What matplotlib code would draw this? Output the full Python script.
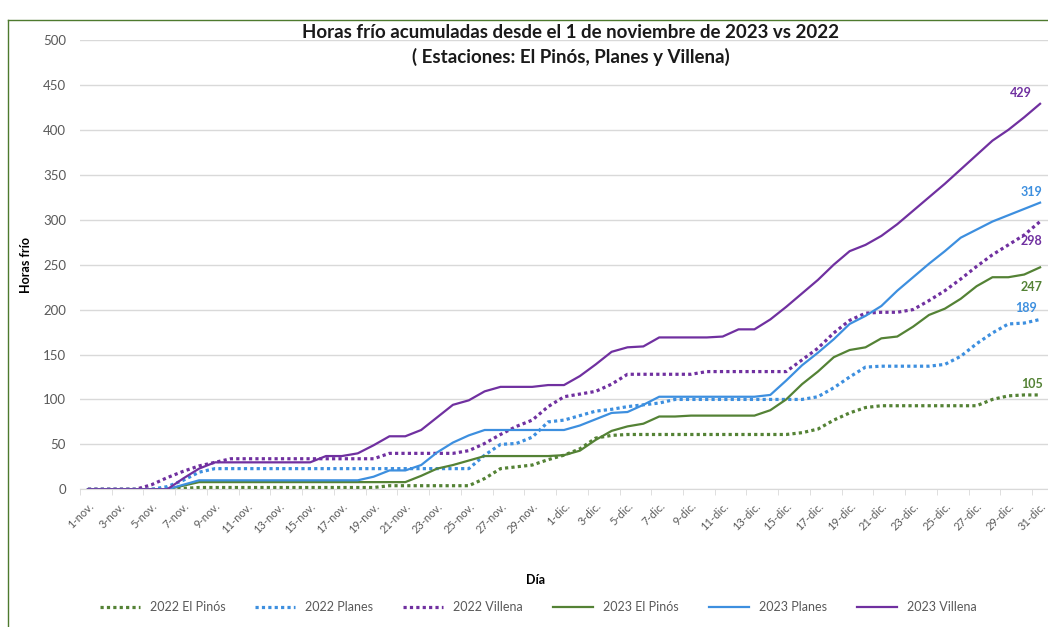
import numpy as np
import matplotlib.pyplot as plt

plt.rcParams['font.family'] = ['Lato', 'DejaVu Sans']

# etiquetas del eje x (cada dos dias)
etiquetas = ['1-nov.', '3-nov.', '5-nov.', '7-nov.', '9-nov.', '11-nov.', '13-nov.', '15-nov.',
             '17-nov.', '19-nov.', '21-nov.', '23-nov.', '25-nov.', '27-nov.', '29-nov.',
             '1-dic.', '3-dic.', '5-dic.', '7-dic.', '9-dic.', '11-dic.', '13-dic.', '15-dic.',
             '17-dic.', '19-dic.', '21-dic.', '23-dic.', '25-dic.', '27-dic.', '29-dic.', '31-dic.']

# horas frio acumuladas, 1-nov a 31-dic
pinos_2022 = [0, 0, 0, 0, 0, 0, 1, 2, 2, 2, 2, 2, 2, 2, 2, 2, 2, 2, 2, 4, 4, 4, 4, 4, 4,
              12, 23, 25, 27, 33, 38, 45, 57, 60, 61, 61, 61, 61, 61, 61, 61, 61, 61, 61, 61,
              63, 67, 77, 85, 91, 93, 93, 93, 93, 93, 93, 93, 100, 104, 105, 105]
planes_2022 = [0, 0, 0, 0, 0, 3, 10, 19, 23, 23, 23, 23, 23, 23, 23, 23, 23, 23, 23, 23, 23,
               23, 23, 23, 23, 38, 50, 51, 58, 75, 77, 82, 87, 89, 92, 94, 96, 100, 100, 100,
               100, 100, 100, 100, 100, 100, 103, 113, 125, 136, 137, 137, 137, 137, 139, 148,
               162, 174, 184, 185, 189]
villena_2022 = [0, 0, 0, 0, 5, 13, 20, 26, 30, 34, 34, 34, 34, 34, 34, 34, 34, 34, 34, 40, 40,
                40, 40, 40, 43, 51, 61, 70, 77, 92, 103, 106, 109, 117, 128, 128, 128, 128, 128,
                131, 131, 131, 131, 131, 131, 144, 157, 174, 188, 196, 197, 197, 200, 210, 221,
                234, 248, 261, 272, 283, 298]
pinos_2023 = [0, 0, 0, 0, 0, 0, 4, 8, 8, 8, 8, 8, 8, 8, 8, 8, 8, 8, 8, 8, 8, 15, 23, 27, 32,
              37, 37, 37, 37, 37, 38, 43, 55, 65, 70, 73, 81, 81, 82, 82, 82, 82, 82, 88, 100,
              117, 131, 147, 155, 158, 168, 170, 181, 194, 201, 212, 226, 236, 236, 239, 247]
planes_2023 = [0, 0, 0, 0, 0, 0, 5, 10, 10, 10, 10, 10, 10, 10, 10, 10, 10, 10, 14, 21, 21,
               27, 41, 52, 60, 66, 66, 66, 66, 66, 66, 71, 78, 85, 86, 94, 103, 103, 103, 103,
               103, 103, 103, 105, 121, 138, 152, 167, 184, 193, 204, 221, 236, 251, 265, 280,
               289, 298, 305, 312, 319]
villena_2023 = [0, 0, 0, 0, 0, 0, 12, 23, 30, 30, 30, 30, 30, 30, 30, 37, 37, 40, 49, 59, 59,
                66, 80, 94, 99, 109, 114, 114, 114, 116, 116, 126, 139, 153, 158, 159, 169, 169,
                169, 169, 170, 178, 178, 189, 203, 218, 233, 250, 265, 272, 282, 295, 310, 325,
                340, 356, 372, 388, 400, 414, 429]

verde = '#548235'
azul = '#3D8FDF'
morado = '#7030A0'
gris = '#595959'

fig = plt.figure(figsize=(10.48, 6.27), dpi=100)
ax = fig.add_axes([80 / 1048, (627 - 489.3) / 627, 968 / 1048, 449.3 / 627])

x = np.arange(len(villena_2023))
punteada = (0, (1, 1))
ax.plot(x, pinos_2022, color=verde, lw=2.3, ls=punteada, label='2022 El Pinós')
ax.plot(x, planes_2022, color=azul, lw=2.3, ls=punteada, label='2022 Planes')
ax.plot(x, villena_2022, color=morado, lw=2.3, ls=punteada, label='2022 Villena')
ax.plot(x, pinos_2023, color=verde, lw=1.6, label='2023 El Pinós')
ax.plot(x, planes_2023, color=azul, lw=1.6, label='2023 Planes')
ax.plot(x, villena_2023, color=morado, lw=1.6, label='2023 Villena')

# valores finales
finales = [(villena_2023, morado, (-14, 8)), (planes_2023, azul, (-6, 8)),
           (villena_2022, morado, (-6, -14)), (pinos_2023, verde, (-6, -14)),
           (planes_2022, azul, (-10, 8)), (pinos_2022, verde, (-6, 8))]
for serie, c, off in finales:
    ax.annotate(str(serie[-1]), (x[-1], serie[-1]), xytext=off, textcoords='offset points',
                ha='center', va='center', color=c, fontsize=9, fontweight='bold')

ax.set_xlim(-0.5, 60.5)
ax.set_ylim(0, 500)
ax.set_yticks(range(0, 501, 50))
ax.tick_params(axis='y', length=0, labelsize=9.5, labelcolor=gris, pad=10)
ax.set_xticks(x[::2])
ax.set_xticklabels(etiquetas, rotation=45, ha='right', rotation_mode='anchor',
                   fontsize=8, color=gris)
ax.set_xticks(np.arange(-0.5, 61, 2), minor=True)
ax.tick_params(axis='x', which='major', length=0, pad=8)
ax.tick_params(axis='x', which='minor', length=4, color='#D9D9D9')
ax.grid(axis='y', color='#D9D9D9', lw=1)
ax.set_axisbelow(True)
for s in ['top', 'right', 'left']:
    ax.spines[s].set_visible(False)
ax.spines['bottom'].set_color('#D9D9D9')

ax.set_ylabel('Horas frío', fontsize=9, fontweight='bold', color='black', labelpad=8)
fig.text(536 / 1048, 1 - 580 / 627, 'Día', ha='center', va='center', fontsize=9,
         fontweight='bold')
fig.text(571 / 1048, 1 - 33 / 627, 'Horas frío acumuladas desde el 1 de noviembre de 2023 vs 2022',
         ha='center', va='center', fontsize=13.5, fontweight='bold', color='#1a1a1a')
fig.text(571 / 1048, 1 - 57 / 627, '( Estaciones: El Pinós, Planes y Villena)',
         ha='center', va='center', fontsize=13.5, fontweight='bold', color='#1a1a1a')

fig.legend(loc='center', bbox_to_anchor=(538 / 1048, 1 - 607 / 627), ncol=6, frameon=False,
           fontsize=9, labelcolor=gris, handlelength=3.2, columnspacing=2.4)

# marco verde
fig.add_artist(plt.Line2D([8 / 1048, 1], [1 - 20 / 627] * 2, color='#4E7A2E', lw=1))
fig.add_artist(plt.Line2D([8 / 1048] * 2, [0, 1 - 20 / 627], color='#4E7A2E', lw=1))

fig.savefig('out.png', dpi=100)
